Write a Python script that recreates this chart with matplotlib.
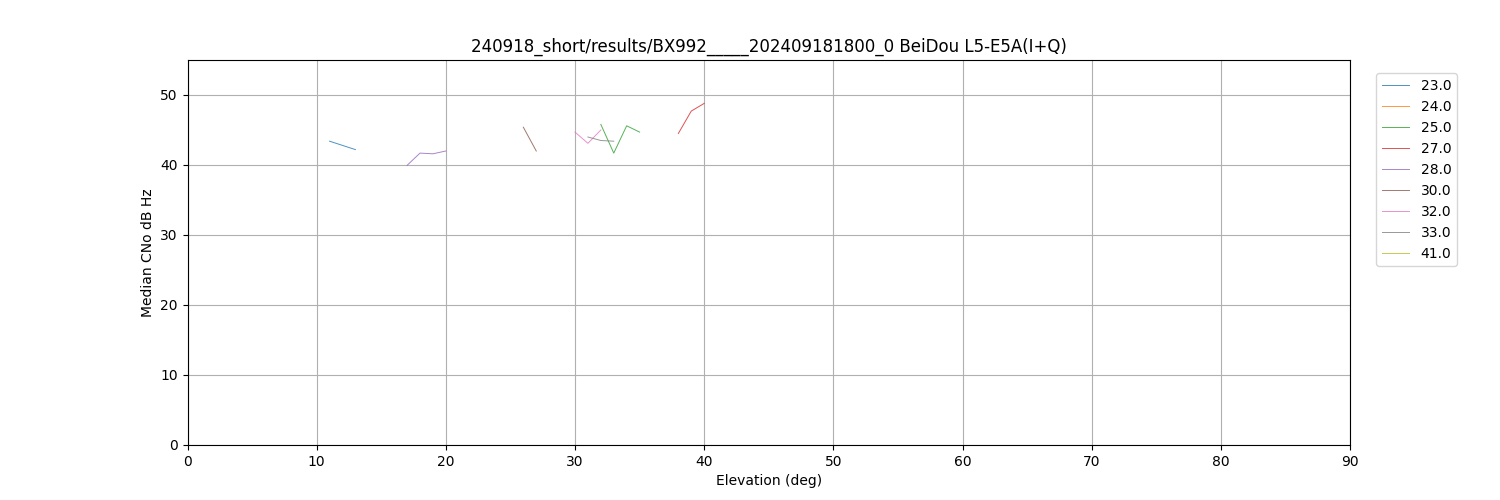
import matplotlib
matplotlib.use("Agg")
import matplotlib.pyplot as plt

title = "240918_short/results/BX992_____202409181800_0 BeiDou L5-E5A(I+Q)"
sats = ["23.0", "24.0", "25.0", "27.0", "28.0", "30.0", "32.0", "33.0", "41.0"]

elev_23 = [11, 12, 13]
cno_23 = [43.4, 42.8, 42.2]
elev_24 = []
cno_24 = []
elev_25 = [32, 33, 34, 35]
cno_25 = [45.8, 41.7, 45.6, 44.7]
elev_27 = [38, 39, 40]
cno_27 = [44.5, 47.7, 48.8]
elev_28 = [17, 18, 19, 20]
cno_28 = [39.95, 41.7, 41.6, 42.0]
elev_30 = [26, 27]
cno_30 = [45.4, 42.0]
elev_32 = [30, 31, 32]
cno_32 = [44.7, 43.1, 45.0]
elev_33 = [31, 32, 33]
cno_33 = [44.0, 43.5, 43.4]
elev_41 = []
cno_41 = []

series = [
    (elev_23, cno_23), (elev_24, cno_24), (elev_25, cno_25), (elev_27, cno_27),
    (elev_28, cno_28), (elev_30, cno_30), (elev_32, cno_32), (elev_33, cno_33),
    (elev_41, cno_41),
]

fig, ax = plt.subplots(figsize=(15, 5), dpi=100)
for name, (x, y) in zip(sats, series):
    ax.plot(x, y, linewidth=0.7, alpha=0.8, label=name)

ax.set_xlim(0, 90)
ax.set_ylim(0, 55)
ax.set_xticks(range(0, 91, 10))
ax.set_yticks(range(0, 51, 10))
ax.grid(True)
ax.set_xlabel("Elevation (deg)")
ax.set_ylabel("Median CNo dB Hz")
ax.set_title(title)
ax.legend(loc="upper left", bbox_to_anchor=(1.0165, 0.983))
fig.savefig("out.png")
